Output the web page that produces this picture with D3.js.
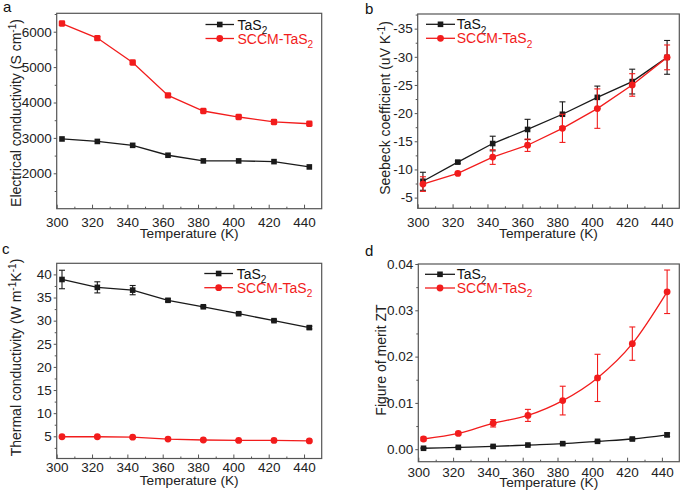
<!DOCTYPE html>
<html>
<head>
<meta charset="utf-8">
<script src="https://cdn.jsdelivr.net/npm/d3@7"></script>
<style>
  html, body { margin: 0; padding: 0; background: #fff; }
  svg { display: block; font-family: "Liberation Sans", Arial, sans-serif; }
</style>
</head>
<body>
<svg id="chart" width="685" height="490"></svg>
<script>
// ---------------- data ----------------
const temps = [303, 323, 343, 363, 383, 403, 423, 443];
const xTicks = [300, 320, 340, 360, 380, 400, 420, 440];
const xMinor = [310, 330, 350, 370, 390, 410, 430, 450];

// (a) electrical conductivity (S cm^-1)
const condTaS2 = [2970, 2900, 2790, 2510, 2350, 2350, 2330, 2180];
const condSCCM = [6230, 5820, 5130, 4200, 3760, 3590, 3450, 3400];
const condTicks = [2000, 3000, 4000, 5000, 6000];
const condMinor = [1500, 2500, 3500, 4500, 5500, 6500];

// (b) Seebeck coefficient (uV K^-1)
const seebTaS2 = [-7.9, -11.3, -14.6, -17.1, -19.8, -22.8, -25.6, -29.9];
const seebTaS2Err = [1.6, 0.2, 1.3, 1.8, 2.2, 2.0, 2.2, 3.0];
const seebSCCM = [-7.4, -9.3, -12.2, -14.3, -17.3, -20.8, -25.0, -29.9];
const seebSCCMErr = [1.3, 0.2, 1.3, 1.1, 2.5, 3.5, 2.0, 2.2];
const seebTicks = [-5, -10, -15, -20, -25, -30, -35];
const seebMinor = [-7.5, -12.5, -17.5, -22.5, -27.5, -32.5, -37.5];

// (c) thermal conductivity (W m^-1 K^-1)
const kapTaS2 = [38.9, 37.2, 36.6, 34.4, 33.0, 31.5, 30.0, 28.5];
const kapTaS2Err = [2.0, 1.2, 1.0, 0.3, 0.2, 0.2, 0.2, 0.3];
const kapSCCM = [4.9, 4.9, 4.8, 4.4, 4.2, 4.1, 4.1, 4.0];
const kapSCCMErr = [0.2, 0.2, 0.2, 0.2, 0.2, 0.2, 0.2, 0.2];
const kapTicks = [5, 10, 15, 20, 25, 30, 35, 40];
const kapMinor = [2.5, 7.5, 12.5, 17.5, 22.5, 27.5, 32.5, 37.5];

// (d) figure of merit ZT
const ztTaS2 = [0.0002, 0.0004, 0.0006, 0.0009, 0.0012, 0.0017, 0.0022, 0.0031];
const ztTaS2Err = [0.0001, 0.0001, 0.0001, 0.0001, 0.0001, 0.0001, 0.0002, 0.0004];
const ztSCCM = [0.0022, 0.0034, 0.0056, 0.0073, 0.0105, 0.0154, 0.0228, 0.0340];
const ztSCCMErr = [0.0004, 0.0003, 0.0008, 0.0013, 0.0031, 0.0051, 0.0036, 0.0047];
const ztTicks = [0.00, 0.01, 0.02, 0.03, 0.04];
const ztMinor = [0.005, 0.015, 0.025, 0.035];

const RED = "#f21c1c";
const BLACK = "#1a1a1a";

const svg = d3.select("#chart");
const fmtInt = d => String(Math.round(d));        // plain hyphen-minus like the original
const fmt2 = d => d.toFixed(2);

function rich(sel, parts, base) {
  let shift = 0;
  parts.forEach(p => {
    const t = sel.append("tspan").text(p.t);
    let dy = 0;
    if (p.sub || p.sup) {
      const target = p.sub ? base * 0.3 : -base * 0.38;
      dy = target - shift; shift = target;
      t.attr("font-size", base * 0.72);
    } else if (shift !== 0) {
      dy = -shift; shift = 0;
    }
    if (dy !== 0) t.attr("dy", dy);
  });
}

function drawMarker(g, type, cx, cy, color) {
  if (type === "square") {
    g.append("rect").attr("x", cx - 2.8).attr("y", cy - 2.8).attr("width", 5.6).attr("height", 5.6)
      .attr("fill", color);
  } else if (type === "rsquare") {
    g.append("rect").attr("x", cx - 3.2).attr("y", cy - 3.2).attr("width", 6.4).attr("height", 6.4)
      .attr("rx", 1.4).attr("fill", color);
  } else {
    g.append("circle").attr("cx", cx).attr("cy", cy).attr("r", 3.4).attr("fill", color);
  }
}

function panel(cfg) {
  const g = svg.append("g");
  const x = d3.scaleLinear().domain([300, 450]).range([cfg.x0, cfg.x1]);
  const y = d3.scaleLinear().domain(cfg.yDomain).range([cfg.y1, cfg.y0]);

  const axL = g.append("g").attr("transform", `translate(${cfg.x0},0)`)
    .call(d3.axisLeft(y).tickValues(cfg.yTicks).tickSizeInner(3).tickSizeOuter(0)
      .tickPadding(2).tickFormat(cfg.fmt));
  const axLm = g.append("g").attr("transform", `translate(${cfg.x0},0)`)
    .call(d3.axisLeft(y).tickValues(cfg.yMinor.filter(v => y(v) >= cfg.y0 - 0.5 && y(v) <= cfg.y1 + 0.5))
      .tickSizeInner(2).tickSizeOuter(0).tickFormat(""));
  const axB = g.append("g").attr("transform", `translate(0,${cfg.y1})`)
    .call(d3.axisBottom(x).tickValues(xTicks).tickSizeInner(-4).tickSizeOuter(0)
      .tickPadding(cfg.xPad).tickFormat(fmtInt));
  const axBm = g.append("g").attr("transform", `translate(0,${cfg.y1})`)
    .call(d3.axisBottom(x).tickValues(xMinor.filter(v => x(v) < cfg.x1 - 1))
      .tickSizeInner(-2).tickSizeOuter(0).tickFormat(""));
  [axL, axLm, axB, axBm].forEach(a => {
    a.select(".domain").remove();
    a.selectAll("line").attr("stroke", "#555").attr("stroke-width", 1);
    a.selectAll("text").attr("font-size", 13.5).attr("fill", "#222")
      .attr("font-family", '"Liberation Sans", Arial, sans-serif');
  });

  g.append("rect").attr("x", cfg.x0).attr("y", cfg.y0)
    .attr("width", cfg.x1 - cfg.x0).attr("height", cfg.y1 - cfg.y0)
    .attr("fill", "none").attr("stroke", "#555").attr("stroke-width", 1.2);

  g.append("text").attr("x", (cfg.x0 + cfg.x1) / 2).attr("y", cfg.xTitleY)
    .attr("text-anchor", "middle").attr("font-size", 13.7).attr("fill", "#222")
    .text("Temperature (K)");
  const yt = g.append("text")
    .attr("transform", `translate(${cfg.yTitleX},${cfg.yTitleC}) rotate(-90)`)
    .attr("text-anchor", "middle").attr("font-size", 14).attr("fill", "#222");
  rich(yt, cfg.yTitle, 14);

  g.append("text").attr("x", cfg.letter[0]).attr("y", cfg.letter[1])
    .attr("font-size", 15).attr("fill", "#111").text(cfg.letter[2]);

  const curve = cfg.curve || d3.curveLinear;
  cfg.series.forEach(s => {
    const pts = temps.map((t, i) => ({ t, v: s.values[i], e: s.err ? s.err[i] : 0 }));
    g.append("path").datum(pts).attr("fill", "none").attr("stroke", s.color)
      .attr("stroke-width", 1.3)
      .attr("d", d3.line().curve(curve).x(d => x(d.t)).y(d => y(d.v)));
    if (s.err) {
      const eg = g.append("g").attr("stroke", s.color).attr("stroke-width", 1.1);
      pts.forEach(d => {
        if (d.e <= 0) return;
        const ya = y(d.v - d.e), yb = y(d.v + d.e), xc = x(d.t);
        eg.append("line").attr("x1", xc).attr("x2", xc).attr("y1", ya).attr("y2", yb);
        eg.append("line").attr("x1", xc - 3).attr("x2", xc + 3).attr("y1", ya).attr("y2", ya);
        eg.append("line").attr("x1", xc - 3).attr("x2", xc + 3).attr("y1", yb).attr("y2", yb);
      });
    }
    pts.forEach(d => drawMarker(g, s.marker, x(d.t), y(d.v), s.color));
  });

  const L = cfg.legend;
  cfg.series.forEach((s, i) => {
    const ly = L.rows[i];
    g.append("line").attr("x1", L.l0).attr("x2", L.l1).attr("y1", ly).attr("y2", ly)
      .attr("stroke", s.color).attr("stroke-width", 1.3);
    drawMarker(g, s.legendMarker || s.marker, (L.l0 + L.l1) / 2, ly, s.color);
    const tx = g.append("text").attr("x", L.tx).attr("y", ly + 5)
      .attr("font-size", 14).attr("fill", s.color === RED ? RED : "#111");
    rich(tx, s.label, 14);
  });
}

const labTaS2 = [{ t: "TaS" }, { t: "2", sub: true }];
const labSCCM = [{ t: "SCCM-TaS" }, { t: "2", sub: true }];

panel({
  x0: 56.7, x1: 321.7, y0: 13.3, y1: 208.7,
  yDomain: [1000, 6520], yTicks: condTicks, yMinor: condMinor, fmt: fmtInt,
  xPad: 8.5, xTitleY: 237.5, yTitleX: 21, yTitleC: 113,
  yTitle: [{ t: "Electrical conductivity (S cm" }, { t: "-1", sup: true }, { t: ")" }],
  letter: [3, 12, "a"],
  legend: { l0: 205.5, l1: 234, tx: 237.5, rows: [24.5, 38.5] },
  series: [
    { values: condTaS2, color: BLACK, marker: "square", label: labTaS2 },
    { values: condSCCM, color: RED, marker: "rsquare", legendMarker: "circle", label: labSCCM }
  ]
});

panel({
  x0: 417.7, x1: 679.3, y0: 14, y1: 208.3,
  yDomain: [-3.1, -37.6], yTicks: seebTicks, yMinor: seebMinor, fmt: fmtInt,
  xPad: 9, xTitleY: 238, yTitleX: 390, yTitleC: 108,
  yTitle: [{ t: "Seebeck coefficient (uV K" }, { t: "-1", sup: true }, { t: ")" }],
  letter: [365, 14, "b"],
  legend: { l0: 426, l1: 455, tx: 456.7, rows: [24.3, 38.3] },
  series: [
    { values: seebTaS2, err: seebTaS2Err, color: BLACK, marker: "square", label: labTaS2 },
    { values: seebSCCM, err: seebSCCMErr, color: RED, marker: "circle", label: labSCCM }
  ]
});

panel({
  x0: 56.7, x1: 321.7, y0: 263.3, y1: 458.5,
  yDomain: [0.2, 42.4], yTicks: kapTicks, yMinor: kapMinor, fmt: fmtInt,
  xPad: 4, xTitleY: 484.5, yTitleX: 21, yTitleC: 357.5,
  yTitle: [{ t: "Thermal conductivity (W m" }, { t: "-1", sup: true }, { t: "K" }, { t: "-1", sup: true }, { t: ")" }],
  letter: [2, 254, "c"],
  legend: { l0: 204.3, l1: 233, tx: 236.7, rows: [273.5, 287.7] },
  series: [
    { values: kapTaS2, err: kapTaS2Err, color: BLACK, marker: "square", label: labTaS2 },
    { values: kapSCCM, err: kapSCCMErr, color: RED, marker: "circle", label: labSCCM }
  ]
});

panel({
  x0: 418.3, x1: 679.3, y0: 264, y1: 461.7,
  yDomain: [-0.0027, 0.04], yTicks: ztTicks, yMinor: ztMinor, fmt: fmt2,
  xPad: 6, xTitleY: 486.5, yTitleX: 386, yTitleC: 360,
  yTitle: [{ t: "Figure of merit ZT" }],
  letter: [365, 256, "d"],
  curve: d3.curveMonotoneX,
  legend: { l0: 425, l1: 455, tx: 456.7, rows: [274.3, 288] },
  series: [
    { values: ztTaS2, err: ztTaS2Err, color: BLACK, marker: "square", label: labTaS2 },
    { values: ztSCCM, err: ztSCCMErr, color: RED, marker: "circle", label: labSCCM }
  ]
});
</script>
</body>
</html>
